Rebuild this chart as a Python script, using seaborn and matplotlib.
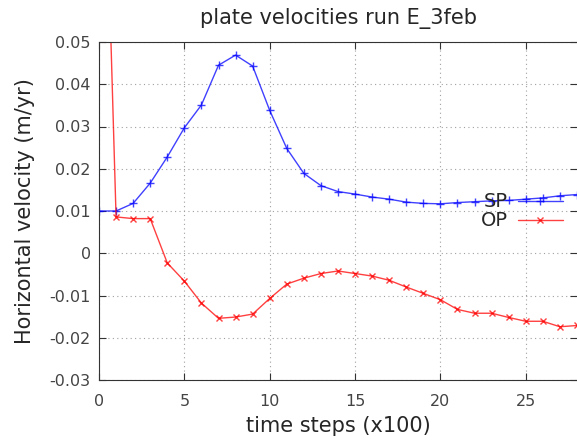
import numpy as np
import pandas as pd
import matplotlib
matplotlib.use("Agg")
import matplotlib.pyplot as plt
import seaborn as sns

# values (time step in units of 100)
steps = list(range(0, 29))
sp_vel = [0.0100, 0.0100, 0.0118, 0.0166, 0.0228, 0.0297, 0.0351, 0.0445, 0.0469,
          0.0443, 0.0338, 0.0248, 0.0189, 0.0160, 0.0146, 0.0140, 0.0133, 0.0128,
          0.0121, 0.0118, 0.0117, 0.0120, 0.0122, 0.0124, 0.0125, 0.0128, 0.0131,
          0.0136, 0.0139]
op_vel = [0.1470, 0.0086, 0.0082, 0.0082, -0.0023, -0.0066, -0.0118, -0.0154, -0.0151,
          -0.0144, -0.0107, -0.0073, -0.0059, -0.0048, -0.0042, -0.0048, -0.0054, -0.0064,
          -0.0080, -0.0095, -0.0110, -0.0133, -0.0142, -0.0142, -0.0152, -0.0161, -0.0161,
          -0.0174, -0.0171]

sns.set_style("ticks")
plt.rcParams['font.family'] = ['DejaVu Sans']

fig = plt.figure(figsize=(5.77, 4.41), dpi=100)
ax = fig.add_axes([99 / 577, 1 - 380 / 441, 1 - 99 / 577, (380 - 42) / 441])

sns.lineplot(x=steps, y=sp_vel, ax=ax, color='#0000ff', marker='+', markersize=6,
             markeredgewidth=1.0, markeredgecolor='#0000ff', linewidth=1.0, alpha=0.75,
             label='SP')
sns.lineplot(x=steps, y=op_vel, ax=ax, color='#ff0000', marker='x', markersize=4.5,
             markeredgewidth=1.0, markeredgecolor='#ff0000', linewidth=1.0, alpha=0.75,
             label='OP')

ax.set_xlim(0, 28)
ax.set_ylim(-0.03, 0.05)
ax.set_xticks([0, 5, 10, 15, 20, 25])
ax.set_yticks(np.arange(-0.03, 0.0501, 0.01))
ax.set_yticklabels(['-0.03', '-0.02', '-0.01', '0', '0.01', '0.02', '0.03', '0.04', '0.05'])
ax.grid(True, linestyle=(0, (1, 3)), color='#a0a0a0', linewidth=0.8)
ax.tick_params(direction='in', length=5, top=True, right=True, labelsize=11.5,
               labelcolor='#444444', color='#333333')
ax.tick_params(axis='y', pad=6)
ax.tick_params(axis='x', pad=10)
for side in ['left', 'top', 'bottom']:
    ax.spines[side].set_color('#333333')
ax.spines['right'].set_visible(False)

ax.set_title('plate velocities run E_3feb', fontsize=15, pad=13)
ax.set_ylabel('Horizontal velocity (m/yr)', fontsize=15, labelpad=10)
ax.set_xlabel('time steps (x100)', fontsize=15, labelpad=5)

leg = ax.legend(loc='upper right', bbox_to_anchor=(0.97, 0.555), frameon=False,
                markerfirst=False, fontsize=14, handlelength=2.3, labelspacing=0.0,
                borderpad=0, borderaxespad=0, handletextpad=0.5)
for t in leg.get_texts():
    t.set_ha('right')

fig.savefig('out.png', dpi=100)
